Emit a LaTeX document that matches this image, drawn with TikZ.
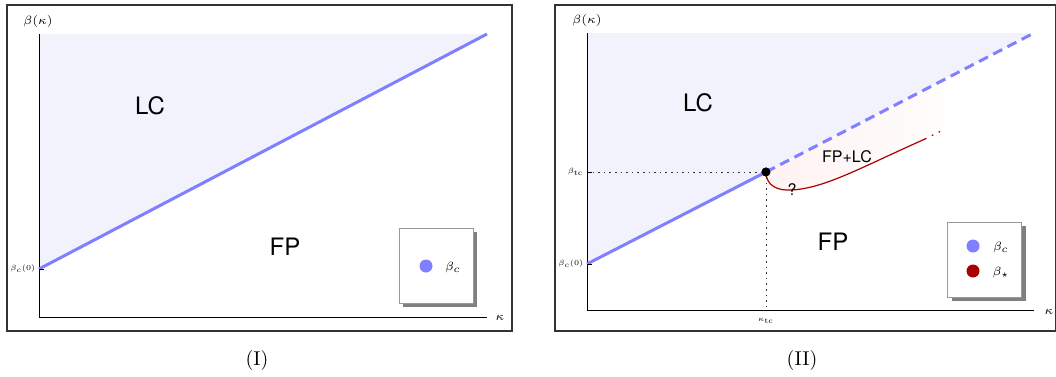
\documentclass[tikz,border=0pt]{standalone}
\usepackage{fontspec}
\setsansfont{TeX Gyre Heros}
\usepackage{amsmath}
\usepackage{amssymb}
\usetikzlibrary{shadows}

\definecolor{critblue}{HTML}{7F7FFF}
\definecolor{lcshade}{HTML}{F2F2FD}
\definecolor{stardred}{HTML}{AA0000}

\begin{document}
\begin{tikzpicture}[
            x=0.5pt, y=-0.5pt,
            frame/.style={draw=black!80, line width=0.8pt},
            axis/.style={black, line width=0.5pt},
            crit/.style={critblue, line width=1.5pt},
            guide/.style={black!80, line width=0.5pt, dash pattern=on 0.8pt off 2pt},
            region/.style={font=\fontsize{12}{14}\sffamily},
            small/.style={font=\fontsize{8}{10}\sffamily, inner sep=1pt},
            ticklabel/.style={font=\fontsize{5}{6}\selectfont, inner sep=1pt, scale=0.75},
            axislabel/.style={font=\fontsize{6}{7}\selectfont, inner sep=1pt},
            legendbox/.style={draw=black!40, fill=white, minimum width=37pt, minimum height=37.5pt,
                drop shadow={shadow xshift=2pt, shadow yshift=-2pt, fill=black!50, opacity=1}},
            legdot/.style={circle, inner sep=0pt, minimum size=6.5pt},
            caption/.style={font=\fontsize{10}{12}\selectfont}
        ]
        \useasboundingbox (0,0) rectangle (1056,376);

        % --- Panel (I) ---
        \draw[frame] (7,5) rectangle (512,331);
        \coordinate (oI) at (39,317);
        \coordinate (topI) at (39,34);
        \coordinate (xendI) at (487,317);
        \coordinate (b0I) at (39,269);
        \coordinate (tipI) at (487,34);
        \fill[lcshade] (b0I) -- (tipI) -- (topI) -- cycle;
        \draw[axis] (topI) -- (oI) -- (xendI);
        \draw[crit] (b0I) -- (tipI);
        \draw[axis] (b0I) -- ++(5,0);

        \node[axislabel] (betaI) at (38,21) {$\beta(\kappa)$};
        \node[axislabel] (kapI) at (500,318) {$\kappa$};
        \node[ticklabel, anchor=east] (b0lblI) at (37,269) {$\beta_c(0)$};
        \node[region] (lcI) at (150,106) {LC};
        \node[region] (fpI) at (285,247) {FP};

        \node[legendbox] (legI) at (436,265.5) {};
        \node[legdot, fill=critblue] (dotI) at (426,266) {};
        \node[axislabel] (legcI) at (453,267) {$\beta_c$};

        \node[caption] (capI) at (257,360) {(I)};

        % --- Panel (II) ---
        \draw[frame] (555,5) rectangle (1055.5,331);
        \coordinate (oII) at (587,310);
        \coordinate (topII) at (587,33);
        \coordinate (xendII) at (1034,310);
        \coordinate (b0II) at (587,264);
        \coordinate (tipII) at (1034,33);
        \coordinate (btcII) at (587,172);
        \coordinate (ktcII) at (766,310);
        \coordinate (redend) at (925,139);
        \coordinate (redtip) at (943,130);
        \coordinate (lineup) at (943,80);
        \fill[lcshade] (b0II) -- (tipII) -- (topII) -- cycle;

        \node[circle, fill=black, inner sep=0pt, minimum size=4.5pt] (tc) at (766,172) {};

        % pink FP+LC region
        \shade[left color=red!5, right color=red!1, draw=none]
            (tc.center) .. controls (766,186) and (778,191) .. (792,190)
            .. controls (825,188) and (860,168) .. (redend) -- (redtip) -- (lineup) -- cycle;

        \draw[axis] (topII) -- (oII) -- (xendII);
        \draw[guide] (btcII) -- (tc);
        \draw[guide] (tc) -- (ktcII);
        \draw[crit] (b0II) -- (tc.center);
        \draw[crit, dash pattern=on 5pt off 3pt] (tc.center) -- (tipII);
        \draw[stardred, line width=0.6pt] (tc.center) .. controls (766,186) and (778,191) .. (792,190)
            .. controls (825,188) and (860,168) .. (redend);
        \draw[stardred, line width=0.6pt, dash pattern=on 0.8pt off 3pt] (redend) -- (redtip);
        \draw[axis] (b0II) -- ++(5,0);
        \draw[axis] (btcII) -- ++(5,0);
        \node[circle, fill=black, inner sep=0pt, minimum size=4.5pt] at (tc) {};

        \node[axislabel] (betaII) at (587,20) {$\beta(\kappa)$};
        \node[axislabel] (kapII) at (1049,312) {$\kappa$};
        \node[ticklabel, anchor=east] (b0lblII) at (585,264) {$\beta_c(0)$};
        \node[ticklabel, anchor=east] (btclbl) at (585,172) {$\beta_{\mathrm{tc}}$};
        \node[ticklabel] (ktclbl) at (766,321) {$\kappa_{\mathrm{tc}}$};
        \node[region] (lcII) at (698,103) {LC};
        \node[region] (fpII) at (833,242) {FP};
        \node[small] (fplc) at (847,157) {FP+LC};
        \node[font=\fontsize{8}{10}\sffamily, inner sep=0pt] (qmark) at (792,190) {?};

        \node[legendbox] (legII) at (984.5,259.5) {};
        \node[legdot, fill=critblue] (dotcII) at (973,246) {};
        \node[legdot, fill=stardred] (dotsII) at (973,271) {};
        \node[axislabel] (legcII) at (1001,247) {$\beta_c$};
        \node[axislabel] (legsII) at (1001,272) {$\beta_\star$};

        \node[caption] (capII) at (802,360) {(II)};
        \end{tikzpicture}
\end{document}
